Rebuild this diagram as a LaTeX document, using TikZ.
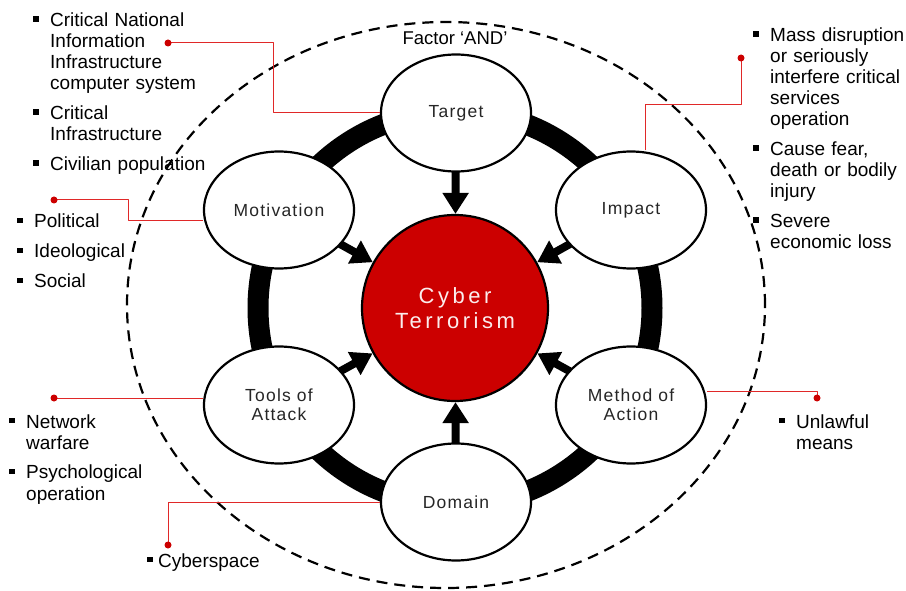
\documentclass[tikz,border=0pt]{standalone}
\usepackage{fontspec}
\setmainfont{Liberation Sans}
\newfontfamily\labfont[LetterSpace=7]{Liberation Sans}
\newfontfamily\termfont[LetterSpace=16]{Liberation Sans}
\usetikzlibrary{shapes.geometric,arrows.meta,backgrounds}
\definecolor{termred}{HTML}{CC0000}
\definecolor{linkred}{HTML}{E02828}
\definecolor{labgrey}{HTML}{262626}
\definecolor{termtext}{HTML}{FBEDED}
\newlength\bulgap
\setlength\bulgap{17pt}
\newcommand{\notefont}{\fontsize{19}{21}\selectfont\spaceskip=3.5pt\relax\hyphenpenalty=10000\relax}
\newcommand{\bitem}[1]{\noindent\llap{\makebox[\bulgap][l]{\raisebox{5pt}{\rule{5.5pt}{5.5pt}}}}#1\par}

\begin{document}
\begin{tikzpicture}[x=1pt,y=-1pt,line join=round,>={Triangle[width=25pt,length=21pt]}]
	\tikzset{factor/.style={ellipse,draw,line width=2.2pt,fill=white,minimum width=150pt,minimum height=117pt,inner sep=0pt,align=center,text=labgrey,font=\labfont\fontsize{17.5}{19}\selectfont},
		link/.style={linkred,line width=1pt},
		push/.style={->,line width=8pt,shorten <=-6pt},
		notes/.style={anchor=base west,inner sep=0pt,text width=#1,font=\notefont}}
	\useasboundingbox (0,0) rectangle (906,591);
	% outer boundary
	\draw[line width=2.2pt,dash pattern=on 11pt off 7pt] (446,305) ellipse[x radius=319pt,y radius=283pt];
	\node[anchor=base,font=\fontsize{18.5}{21}\selectfont] (andlab) at (455,45) {Factor ‘AND’};
	% core
	\node[circle,draw,line width=2.2pt,fill=termred,minimum size=186pt,inner sep=0pt,align=center,text=termtext,font=\termfont\fontsize{22}{25}\selectfont] (cyber) at (455,308) {Cyber\\Terrorism};
	% factors
	\node[factor] (tgt) at (456,113) {Target};
	\node[factor] (imp) at (631,210) {Impact};
	\node[factor] (meth) at (631,405) {Method of\\Action};
	\node[factor] (dom) at (456,502) {Domain};
	\node[factor] (tools) at (279,405) {Tools of\\Attack};
	\node[factor] (mot) at (279,210) {Motivation};
	\begin{pgfonlayer}{background}
		\draw[line width=21pt] (cyber.center) circle[radius=197pt];
		\foreach \f in {tgt,imp,meth,dom,tools,mot}
			\draw[push] (\f) -- (cyber);
	\end{pgfonlayer}
	% links to the notes
	\coordinate (d1) at (168,43);
	\coordinate (d2) at (741,58);
	\coordinate (d3) at (54,200);
	\coordinate (d4) at (54,398);
	\coordinate (d5) at (168,545);
	\coordinate (d6) at (817,398);
	\draw[link] (tgt.west) -- ++(-106,0) |- (d1);
	\draw[link] ([xshift=14pt]imp.north) -- ++(0,-46) -| (d2);
	\draw[link] ([yshift=-11pt]mot.west) -- ++(-74,0) |- (d3);
	\draw[link] (d4 -| tools.west) -- (d4);
	\draw[link] (dom.west) -| (d5);
	\draw[link] ([yshift=14pt]meth.east) -| (d6);
	\foreach \i in {1,...,6}
		\fill[termred] (d\i) circle[radius=3.5pt];
	% notes
	\node[notes=180pt] (tgtnotes) at (33,27) {\leftskip=\bulgap\parskip=9pt
		\bitem{Critical National\newline Information\newline Infrastructure\newline computer system}
		\bitem{Critical\newline Infrastructure}
		\bitem{Civilian population}};
	\node[notes=170pt] (impnotes) at (753,42) {\leftskip=\bulgap\parskip=9pt
		\bitem{Mass disruption\newline or seriously\newline interfere critical\newline services\newline operation}
		\bitem{Cause fear,\newline death or bodily\newline injury}
		\bitem{Severe\newline economic loss}};
	\node[notes=130pt] (motnotes) at (17,228) {\leftskip=\bulgap\parskip=9pt
		\bitem{Political}
		\bitem{Ideological}
		\bitem{Social}};
	\node[notes=150pt] (toolnotes) at (9,428) {\leftskip=\bulgap\parskip=9pt
		\bitem{Network\newline warfare}
		\bitem{Psychological\newline operation}};
	\node[notes=120pt] (domnotes) at (147,567) {\setlength\bulgap{11pt}\leftskip=\bulgap
		\bitem{Cyberspace}};
	\node[notes=110pt] (methnotes) at (779,428) {\leftskip=\bulgap\parskip=9pt
		\bitem{Unlawful\newline means}};
\end{tikzpicture}
\end{document}
